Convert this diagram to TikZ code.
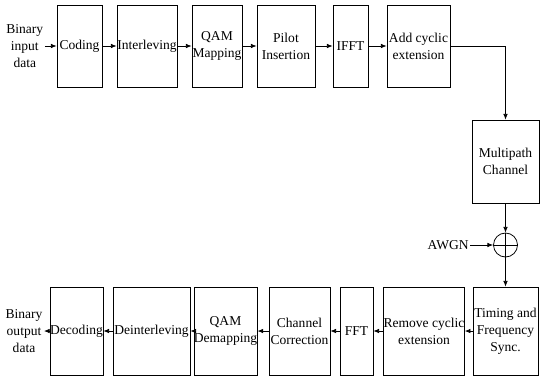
\documentclass[tikz,border=0pt]{standalone}
\usepackage{fontspec}
\setmainfont{Liberation Serif}
\usetikzlibrary{arrows.meta,calc,positioning}

\begin{document}
\begin{tikzpicture}[>={Latex[length=4.5pt,width=3.6pt]},font=\fontsize{10.7}{13.6}\selectfont]
  \tikzset{
    blk/.style={draw,line width=0.6pt,inner sep=0pt,align=center},
    toprow/.style={blk,minimum height=2.278cm},
    botrow/.style={blk,minimum height=2.444cm},
    lbl/.style={inner sep=1pt,align=center},
    arr/.style={->,line width=0.6pt}
  }
  \useasboundingbox (0,0) rectangle (15,10.556);

  % Transmitter chain
  \node[lbl] (bin) at (0.69,9.278) {Binary\\input\\data};
  \node[toprow,minimum width=1.25cm] (cod) at (2.208,9.278) {Coding};
  \node[toprow,minimum width=1.667cm] (intl) at (4.083,9.278) {Interleving};
  \node[toprow,minimum width=1.389cm] (qam) at (6.028,9.278) {QAM\\Mapping};
  \node[toprow,minimum width=1.611cm] (pil) at (7.944,9.278) {Pilot\\Insertion};
  \node[toprow,minimum width=0.972cm] (ifft) at (9.736,9.278) {IFFT};
  \node[toprow,minimum width=1.75cm] (addcp) at (11.625,9.278) {Add cyclic\\extension};

  \draw[arr] (bin) -- (cod);
  \draw[arr] (cod) -- (intl);
  \draw[arr] (intl) -- (qam);
  \draw[arr] (qam) -- (pil);
  \draw[arr] (pil) -- (ifft);
  \draw[arr] (ifft) -- (addcp);

  % Channel and noise
  \node[blk,minimum width=1.861cm,minimum height=2.306cm] (chan) at (14.042,6.069) {Multipath\\Channel};
  \node[draw,circle,line width=0.6pt,minimum size=0.667cm,inner sep=0pt] (sum) at (14.042,3.75) {};
  \draw[line width=0.6pt] (sum.north) -- (sum.south) (sum.west) -- (sum.east);
  \node[lbl] (awgn) at (12.45,3.75) {AWGN};

  \draw[arr] (addcp.east) -| (chan.north);
  \draw[arr] (chan.south) -- (sum.north);
  \draw[arr] (awgn.east) -- (sum.west);

  % Receiver chain
  \node[botrow,minimum width=1.806cm] (sync) at (14.042,1.361) {Timing and\\Frequency\\Sync.};
  \node[botrow,minimum width=2.167cm] (remcp) at (11.778,1.361) {Remove cyclic\\extension};
  \node[botrow,minimum width=0.917cm] (fft) at (9.903,1.361) {FFT};
  \node[botrow,minimum width=1.694cm] (chc) at (8.319,1.361) {Channel\\Correction};
  \node[botrow,minimum width=1.528cm] (qamd) at (6.264,1.361) {QAM\\Demapping};
  \node[botrow,minimum width=2.139cm] (deint) at (4.208,1.361) {Deinterleving};
  \node[botrow,minimum width=1.472cm] (dec) at (2.125,1.361) {Decoding};
  \node[lbl] (bout) at (0.667,1.361) {Binary\\output\\data};

  \draw[arr] (sum.south) -- (sync.north);
  \draw[arr] (sync) -- (remcp);
  \draw[arr] (remcp) -- (fft);
  \draw[arr] (fft) -- (chc);
  \draw[arr] (chc) -- (qamd);
  \draw[arr] (qamd) -- (deint);
  \draw[arr] (deint) -- (dec);
  \draw[arr] (dec) -- (bout);
\end{tikzpicture}
\end{document}
